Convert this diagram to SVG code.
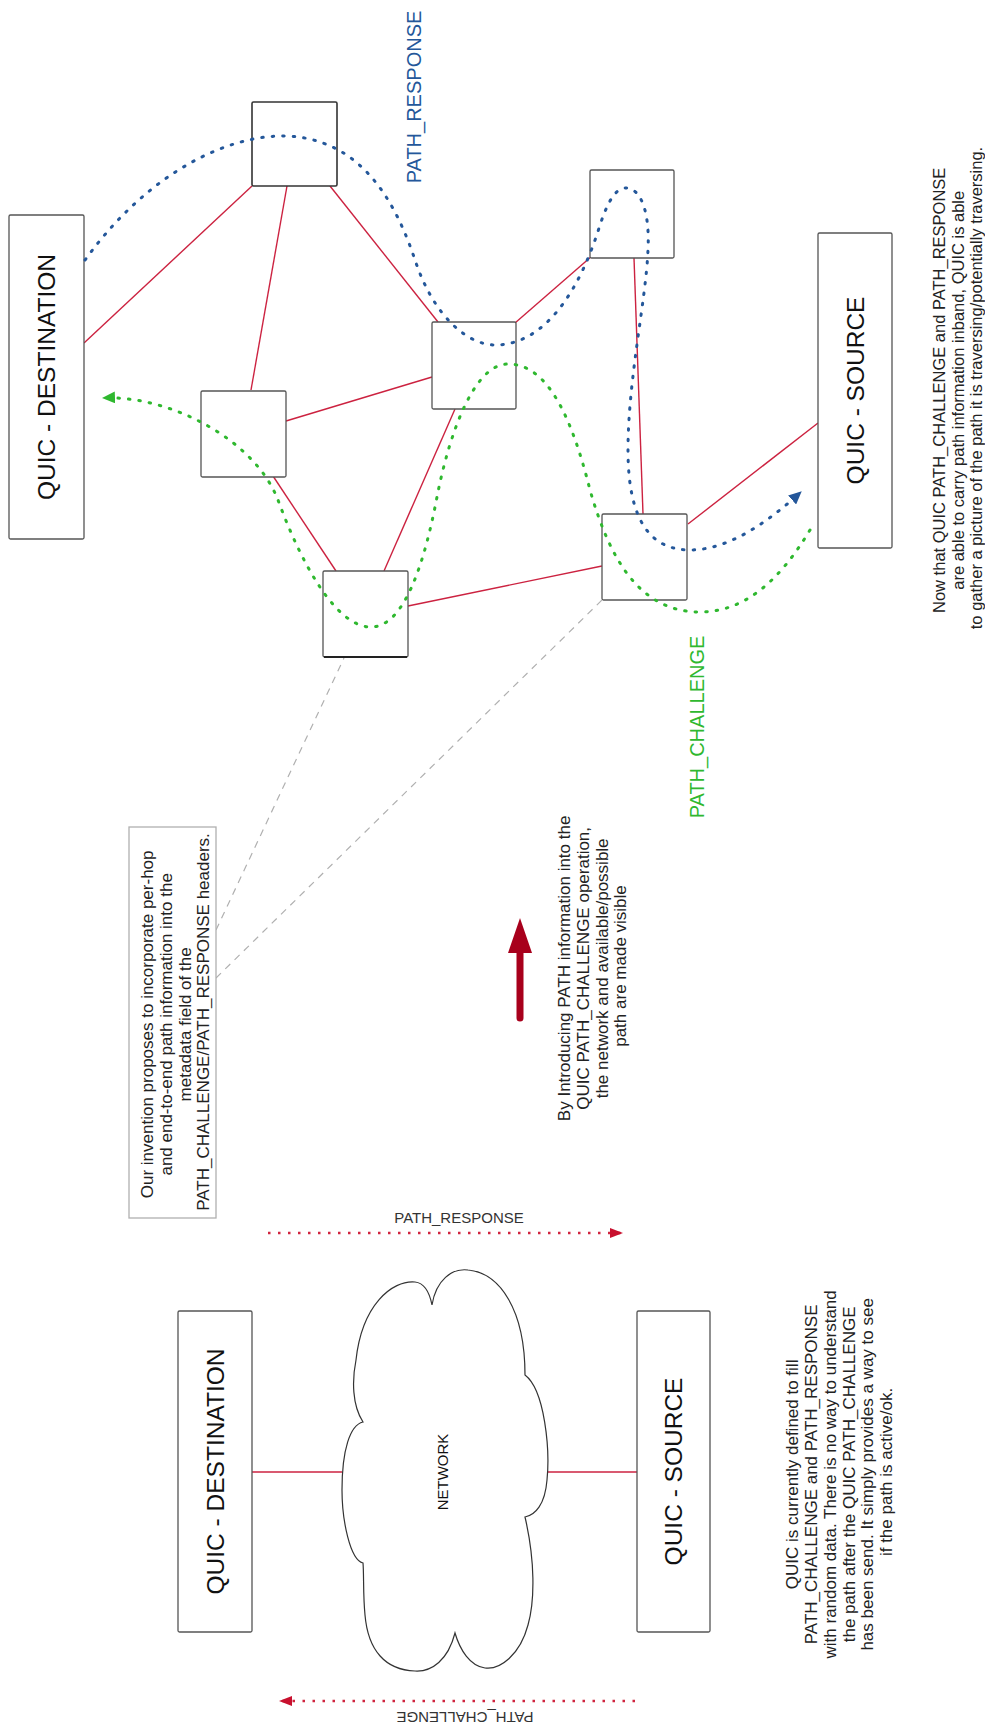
<svg xmlns="http://www.w3.org/2000/svg" width="985" height="1731" viewBox="0 0 985 1731">
<style>
.box{fill:#fff;stroke:#555;stroke-width:1.3}
.lbl{font-family:"Liberation Sans",Arial,sans-serif;fill:#111;text-anchor:middle}
.big{font-size:24.5px}
.para{font-size:17px;fill:#222}
.red{stroke:#cc2240;stroke-width:1.4;fill:none}
.gray{stroke:#b0b0b0;stroke-width:1.2;fill:none;stroke-dasharray:7 6}
.blue{stroke:#24579a;stroke-width:3;fill:none;stroke-linecap:round;stroke-dasharray:1.5 9}
.green{stroke:#2fb82f;stroke-width:3;fill:none;stroke-linecap:round;stroke-dasharray:1.5 9}
.rdot{stroke:#d0243f;stroke-width:2.5;fill:none;stroke-dasharray:2.5 7.5}
</style>
<defs>
<marker id="mb" markerUnits="userSpaceOnUse" markerWidth="14" markerHeight="12" refX="12" refY="6" orient="auto"><path d="M0,0 L13,6 L0,12 z" fill="#24579a"/></marker>
<marker id="mg" markerUnits="userSpaceOnUse" markerWidth="14" markerHeight="12" refX="12" refY="6" orient="auto"><path d="M0,0 L13,6 L0,12 z" fill="#2fb82f"/></marker>
<marker id="mr" markerUnits="userSpaceOnUse" markerWidth="14" markerHeight="12" refX="12" refY="6" orient="auto"><path d="M0,1 L13,6 L0,11 z" fill="#c8102e"/></marker>
</defs>

<g id="connectors">
  <line class="red" x1="84" y1="343" x2="252" y2="186"/>
  <line class="red" x1="287" y1="186" x2="251" y2="390"/>
  <line class="red" x1="330" y1="186" x2="438" y2="322"/>
  <line class="red" x1="286" y1="421" x2="432" y2="377"/>
  <line class="red" x1="273" y1="476" x2="336" y2="571"/>
  <line class="red" x1="455" y1="409" x2="384" y2="571"/>
  <line class="red" x1="408" y1="606" x2="602" y2="566"/>
  <line class="red" x1="515" y1="323" x2="592" y2="256"/>
  <line class="red" x1="634" y1="258" x2="643" y2="514"/>
  <line class="red" x1="688" y1="524" x2="818" y2="423"/>
  <line class="gray" x1="216" y1="930" x2="344" y2="658"/>
  <line class="gray" x1="216" y1="978" x2="602" y2="600"/>
  <line class="red" x1="252" y1="1472" x2="342" y2="1472"/>
  <line class="red" x1="547" y1="1472" x2="637" y2="1472"/>
  <line class="rdot" x1="268" y1="1233" x2="622" y2="1233" marker-end="url(#mr)"/>
  <line class="rdot" x1="635" y1="1701" x2="280" y2="1701" marker-end="url(#mr)"/>
</g>

<g id="dest-top"><rect class="box" x="9" y="215" width="75" height="324" rx="1.5"/>
<text class="lbl big" transform="translate(46.5,377) rotate(-90)" y="8.8">QUIC - DESTINATION</text></g>
<g id="node-a"><rect class="box" x="252" y="102" width="85" height="84" rx="1.5" style="stroke:#333;stroke-width:1.6"/></g>
<g id="node-b"><rect class="box" x="201" y="391" width="85" height="86" rx="1.5"/></g>
<g id="node-c"><rect class="box" x="432" y="322" width="84" height="87" rx="1.5"/></g>
<g id="node-d"><rect class="box" x="590" y="170" width="84" height="88" rx="1.5"/></g>
<g id="node-e"><rect class="box" x="602" y="514" width="85" height="86" rx="1.5"/></g>
<g id="node-f"><rect class="box" x="323" y="571" width="85" height="86" rx="1.5"/><line x1="324" y1="657" x2="407" y2="657" stroke="#222" stroke-width="2"/></g>
<g id="source-top"><rect class="box" x="818" y="233" width="74" height="315" rx="1.5"/>
<text class="lbl big" transform="translate(855,390.5) rotate(-90)" y="8.8">QUIC - SOURCE</text></g>

<g id="curves">
  <path class="blue" marker-end="url(#mb)" d="M85,260 C150,170 230,135 285,136 C360,138 395,200 415,260 C435,320 470,345 495,345 C545,345 580,290 600,225 C610,195 618,188 626,188 C640,188 650,210 648,250 C646,300 628,380 628,450 C628,520 650,550 690,550 C730,550 770,520 801,492"/>
  <path class="green" marker-end="url(#mg)" d="M810,530 C780,580 745,612 700,612 C640,612 610,560 590,490 C570,410 545,364 508,364 C475,364 450,430 437,497 C425,560 405,627 371,627 C335,627 300,560 278,500 C255,440 170,395 103,398"/>
</g>

<g id="label-path-response"><text class="lbl" style="font-size:20px;fill:#24579a" transform="translate(414,97) rotate(-90)" y="7.2">PATH_RESPONSE</text></g>
<g id="label-path-challenge"><text class="lbl" style="font-size:20px;fill:#2fb82f" transform="translate(697,727) rotate(-90)" y="7.2">PATH_CHALLENGE</text></g>

<g id="note-right"><text class="lbl para" style="font-size:16.5px" transform="translate(958,388) rotate(-90)">
<tspan x="0" y="-13">Now that QUIC PATH_CHALLENGE and PATH_RESPONSE</tspan>
<tspan x="0" y="5.7">are able to carry path information inband, QUIC is able</tspan>
<tspan x="0" y="24.4">to gather a picture of the path it is traversing/potentially traversing.</tspan></text></g>

<g id="note-invention"><rect x="129" y="827" width="87" height="391" fill="#fff" stroke="#b0b0b0" stroke-width="1.3"/>
<text class="lbl para" transform="translate(175,1022) rotate(-90)">
<tspan x="0" y="-21.9">Our invention proposes to incorporate per-hop</tspan>
<tspan x="0" y="-3.2">and end-to-end path information into the</tspan>
<tspan x="0" y="15.5">metadata field of the</tspan>
<tspan x="0" y="34.2">PATH_CHALLENGE/PATH_RESPONSE headers.</tspan></text></g>

<g id="big-arrow"><line x1="520" y1="1018" x2="520" y2="948" stroke="#a8001c" stroke-width="7" stroke-linecap="round"/>
<path d="M520,918 L532,953 L508,953 z" fill="#a8001c"/></g>

<g id="note-middle"><text class="lbl para" transform="translate(592,966) rotate(-90)">
<tspan x="0" y="-21.9">By Introducing PATH information into the</tspan>
<tspan x="0" y="-3.2">QUIC PATH_CHALLENGE operation,</tspan>
<tspan x="0" y="15.5">the network and available/possible</tspan>
<tspan x="0" y="34.2">path are made visible</tspan></text></g>

<g id="label-bottom-response"><text class="lbl" style="font-size:15px;fill:#333" x="459" y="1223">PATH_RESPONSE</text></g>
<g id="label-bottom-challenge"><text class="lbl" style="font-size:15px;fill:#333" x="465" y="1722.4" transform="rotate(180 465 1717)">PATH_CHALLENGE</text></g>

<g id="dest-bottom"><rect class="box" x="178" y="1311" width="74" height="321" rx="1.5"/>
<text class="lbl big" transform="translate(215,1471.5) rotate(-90)" y="8.8">QUIC - DESTINATION</text></g>

<g id="network"><path fill="#fff" stroke="#333" stroke-width="1.2" d="M363,1422 C352,1405 352,1380 356,1360 C362,1305 392,1280 415,1282 C425,1283 430,1295 432,1305 C436,1280 452,1268 468,1270 C500,1273 525,1310 525,1375 C545,1390 550,1450 547,1480 C545,1505 535,1515 525,1517 C535,1560 535,1600 528,1625 C520,1655 500,1670 485,1668 C470,1666 460,1650 455,1633 C448,1660 432,1672 415,1671 C385,1670 368,1650 365,1615 C363,1595 364,1575 363,1563 C350,1560 342,1520 342,1490 C342,1450 350,1425 363,1422 z"/>
<text class="lbl" style="font-size:15px" transform="translate(443,1472) rotate(-90)" y="5.4">NETWORK</text></g>

<g id="source-bottom"><rect class="box" x="637" y="1311" width="73" height="321" rx="1.5"/>
<text class="lbl big" transform="translate(673.5,1471.5) rotate(-90)" y="8.8">QUIC - SOURCE</text></g>

<g id="note-bottom"><text class="lbl para" transform="translate(839,1472) rotate(-90)">
<tspan x="0" y="-40.6">QUIC is currently defined to fill</tspan>
<tspan x="0" y="-21.9">PATH_CHALLENGE and PATH_RESPONSE</tspan>
<tspan x="0" y="-3.2">with random data. There is no way to understand</tspan>
<tspan x="0" y="15.5">the path after the QUIC PATH_CHALLENGE</tspan>
<tspan x="0" y="34.2">has been send. It simply provides a way to see</tspan>
<tspan x="0" y="52.9">if the path is active/ok.</tspan></text></g>
</svg>
